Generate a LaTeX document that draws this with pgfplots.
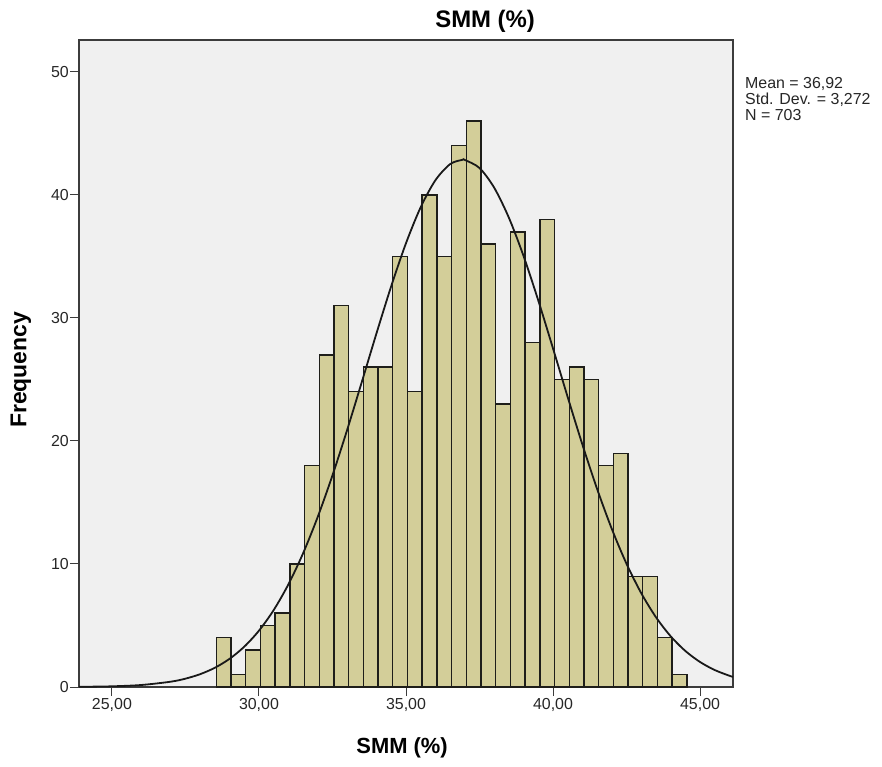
\documentclass[border=0pt]{standalone}
\usepackage{fontspec}
\setmainfont{Liberation Sans}
\usepackage{pgfplots}
\pgfplotsset{compat=1.18}

\definecolor{plotbg}{RGB}{240,240,240}
\definecolor{barfill}{RGB}{211,206,153}
\definecolor{bardraw}{RGB}{30,30,26}
\definecolor{axisgray}{RGB}{60,60,60}

\begin{document}
\begin{tikzpicture}
\useasboundingbox (-79bp,-80bp) rectangle (803bp,687bp);
\begin{axis}[%
scale only axis,
width=654bp, height=647bp,
xmin=23.88, xmax=46.12,
ymin=0, ymax=52.6,
axis background/.style={fill=plotbg},
axis line style={draw=axisgray, line width=1.4bp},
tick style={draw=axisgray, line width=1bp},
tick align=outside,
major tick length=9bp,
xtick pos=bottom, ytick pos=left,
xtick={25,30,35,40,45},
xticklabels={{25,00},{30,00},{35,00},{40,00},{45,00}},
ytick={0,10,20,30,40,50},
yticklabels={0,10,20,30,40,50},
ticklabel style={font=\fontsize{16}{18}\selectfont, text=black!85},
yticklabel style={inner sep=1bp},
xticklabel style={inner sep=2bp},
title={SMM (\%)},
title style={font=\bfseries\fontsize{24}{26}\selectfont, at={(axis description cs:0.621,1)}, anchor=center, yshift=13bp},
xlabel={SMM (\%)},
xlabel style={font=\bfseries\fontsize{22}{24}\selectfont, at={(axis description cs:0.494,0)}, anchor=center, yshift=-61bp},
ylabel={Frequency},
ylabel style={font=\bfseries\fontsize{23}{25}\selectfont, at={(axis description cs:-0.089,0.49)}, anchor=center},
clip=true,
]
% histogram, bin width 0.5
\addplot[ybar interval, fill=barfill, draw=bardraw, line width=1.4bp] coordinates {
(28.55,4) (29.05,1) (29.55,3) (30.05,5) (30.55,6) (31.05,10) (31.55,18) (32.05,27)
(32.55,31) (33.05,24) (33.55,26) (34.05,26) (34.55,35) (35.05,24) (35.55,40) (36.05,35)
(36.55,44) (37.05,46) (37.55,36) (38.05,23) (38.55,37) (39.05,28) (39.55,38) (40.05,25)
(40.55,26) (41.05,25) (41.55,18) (42.05,19) (42.55,9) (43.05,9) (43.55,4) (44.05,1)
(44.55,0)
};
% normal curve
\addplot[smooth, no marks, draw=black!90, line width=1.8bp] coordinates {
(23.88,0.015) (24,0.018) (25,0.056) (26,0.163) (27,0.432) (27.5,0.679) (28,1.043)
(28.5,1.563) (29,2.289) (29.5,3.277) (30,4.580) (30.5,6.252) (31,8.341) (31.5,10.870)
(32,13.839) (32.5,17.210) (33,20.911) (33.5,24.819) (34,28.781) (34.5,32.604)
(35,36.082) (35.5,39.008) (36,41.199) (36.5,42.509) (36.92,42.86) (37,42.847)
(37.5,42.192) (38,40.588) (38.5,38.144) (39,35.020) (39.5,31.408) (40,27.518)
(40.5,23.557) (41,19.699) (41.5,16.092) (42,12.842) (42.5,10.012) (43,7.626)
(43.5,5.675) (44,4.125) (44.5,2.929) (45,2.032) (45.5,1.377) (46,0.912) (46.12,0.823)
};
\end{axis}
\node[anchor=north west, align=left, inner sep=0pt, font=\fontsize{16}{16}\selectfont, text=black!85]
  at (666bp,610bp) {Mean = 36,92\\Std. Dev. = 3,272\\N = 703};
\end{tikzpicture}
\end{document}
